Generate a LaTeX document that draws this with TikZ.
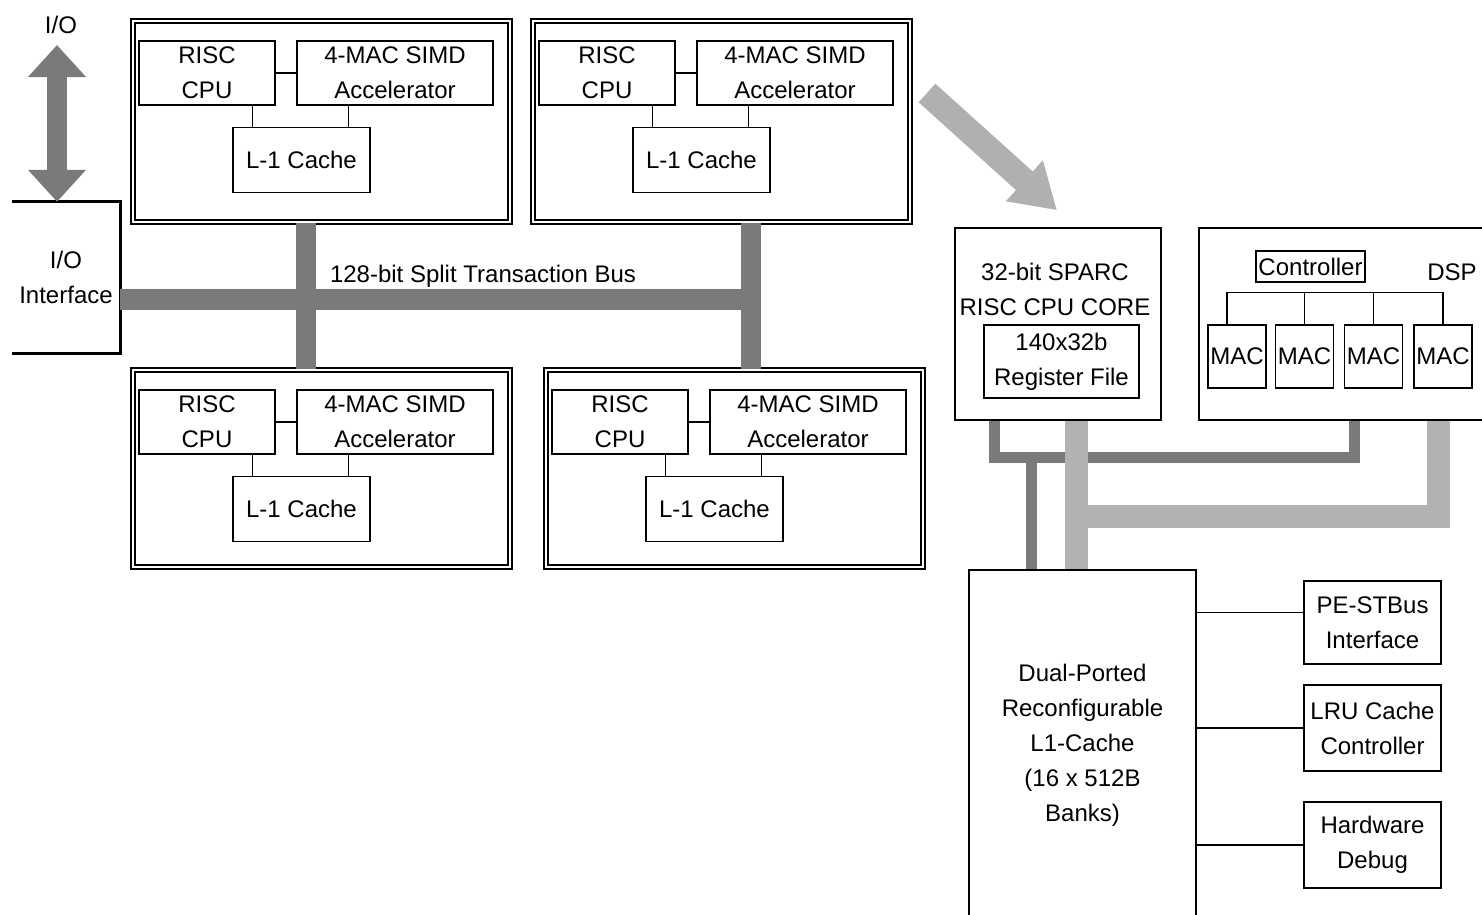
\documentclass[tikz,border=0pt]{standalone}
\usepackage{fontspec}
\setmainfont{Liberation Sans}
\usetikzlibrary{arrows.meta}

\definecolor{busgray}{RGB}{122,122,122}
\definecolor{buslight}{RGB}{178,178,178}
\definecolor{arrowgray}{RGB}{176,176,176}

\tikzset{
  blk/.style={draw, line width=1.5pt, inner sep=0pt, align=center},
  pebox/.style={draw, line width=1.5pt, double=white, double distance=2.5pt, inner sep=0pt},
  link/.style={line width=1.3pt},
  bus/.style={draw=busgray, line width=21pt},
  thinbus/.style={draw=busgray, line width=11pt},
  widebus/.style={draw=buslight, line width=23pt},
}

\begin{document}
\begin{tikzpicture}[x=1pt, y=-1pt, font=\fontsize{24}{35}\selectfont]
  \useasboundingbox (0,0) rectangle (1482,914);

  % four processing elements
  \foreach \n/\px/\py/\h in {1/130/18/201, 2/530/18/201, 3/130/367/197, 4/543/367/197} {
    \begin{scope}[shift={(\px,\py)}]
      \node[pebox, minimum width=377pt, minimum height=\h pt] (pe\n) at (191.5,\h/2+3) {};
      \node[blk, minimum width=136pt, minimum height=64pt] (cpu\n) at (77,55) {RISC\\CPU};
      \node[blk, minimum width=196pt, minimum height=64pt] (acc\n) at (265,55) {4-MAC SIMD\\Accelerator};
      \node[blk, minimum width=137pt, minimum height=65pt] (lc\n) at (171.5,142) {L-1 Cache};
      \coordinate (cp\n) at ([xshift=20pt]lc\n.north west);
      \coordinate (ap\n) at ([xshift=-22pt]lc\n.north east);
      \draw[link] (cpu\n) -- (acc\n);
      \draw[link] (cp\n) -- (cp\n |- cpu\n.south);
      \draw[link] (ap\n) -- (ap\n |- acc\n.south);
    \end{scope}
  }

  % I/O
  \node (iolbl) at (61,25) {I/O};
  \node[align=center, minimum width=108pt, minimum height=151pt, inner sep=0pt] (io) at (66,277.5) {I/O\\Interface};
  \draw[line width=3pt] (io.north west) -- (io.north east) -- (io.south east) -- (io.south west);
  \coordinate (iotop) at (57,45);
  \coordinate (iobot) at ([xshift=-9pt]io.north);
  \draw[draw=busgray, line width=20pt, {Triangle[width=56pt,length=32pt]}-{Triangle[width=56pt,length=32pt]}] (iotop) -- (iobot);

  % split transaction bus
  \coordinate (busend) at ([xshift=229pt]pe2.south west);
  \coordinate (busin) at ([yshift=-22pt]io.east);
  \coordinate (stl) at ([xshift=174pt]pe1.south west);
  \coordinate (str) at ([xshift=219pt]pe2.south west);
  \draw[bus] (busin) -- (busin -| busend);
  \draw[draw=busgray, line width=20pt] (stl) -- (stl |- pe3.north);
  \draw[draw=busgray, line width=20pt] (str) -- (str |- pe4.north);
  \node (buslbl) at (483,276) {128-bit Split Transaction Bus};

  % SPARC core and DSP
  \node[blk, minimum width=206pt, minimum height=192pt] (sparc) at (1058,324) {};
  \node[align=center] (sparclbl) at (1055,289.5) {32-bit SPARC\\RISC CPU CORE};
  \node[blk, minimum width=155pt, minimum height=73pt] (regf) at (1061.5,361.5) {140x32b\\Register File};

  \node[blk, minimum width=296pt, minimum height=192pt] (dsp) at (1347,324) {};
  \node[blk, minimum width=109pt, minimum height=31pt] (ctrl) at (1310.5,266.5) {Controller};
  \node (dsplbl) at (1452,272) {DSP};
  \foreach \i/\mx in {1/1237, 2/1304.5, 3/1373.5, 4/1443}
    \node[blk, minimum width=58pt, minimum height=63pt] (mac\i) at (\mx,356.5) {MAC};
  \coordinate (mt) at ([xshift=-10pt]mac1.north);
  \draw[link] (mt) -- ++(0,-32) -| (mac4.north);
  \foreach \i in {2,3}
    \draw[link] (mac\i.north) -- ++(0,-32);

  % big arrow
  \coordinate (arrtail) at (927,93);
  \coordinate (arrtip) at ([shift={(-1pt,17pt)}]sparc.north);
  \draw[draw=arrowgray, line width=25pt, -{Triangle[width=52pt,length=44pt]}] (arrtail) -- (arrtip);

  % L1 cache and periphery
  \node[blk, minimum width=227pt, minimum height=350pt] (l1big) at (1082.5,745) {Dual-Ported\\Reconfigurable\\L1-Cache\\(16 x 512B\\Banks)};
  \node[blk, minimum width=137pt, minimum height=83pt] (pestb) at (1372.5,622.5) {PE-STBus\\Interface};
  \node[blk, minimum width=137pt, minimum height=86pt] (lru) at (1372.5,728) {LRU Cache\\Controller};
  \node[blk, minimum width=137pt, minimum height=86pt] (hwdbg) at (1372.5,845) {Hardware\\Debug};
  \coordinate (pein) at ([yshift=10pt]pestb.west);
  \draw[link] (pein) -- (pein -| l1big.east);
  \draw[link] (lru.west) -- (lru.west -| l1big.east);
  \draw[link] (hwdbg.west) -- (hwdbg.west -| l1big.east);

  % memory buses
  \coordinate (spd) at ([xshift=40pt]sparc.south west);
  \coordinate (spl) at ([xshift=122pt]sparc.south west);
  \coordinate (dsd) at ([xshift=156pt]dsp.south west);
  \coordinate (dsl) at ([xshift=240pt]dsp.south west);
  \coordinate (cad) at ([xshift=63pt]l1big.north west);
  \coordinate (cal) at ([xshift=108pt]l1big.north west);
  \draw[thinbus] (spd) -- ++(0,37) coordinate (dj) -| (dsd);
  \draw[thinbus] (dj) -| (cad);
  \coordinate (lj) at ([yshift=53pt]cal);
  \draw[widebus] (spl) -- (cal);
  \draw[widebus] (lj) -| (dsl);
\end{tikzpicture}
\end{document}
